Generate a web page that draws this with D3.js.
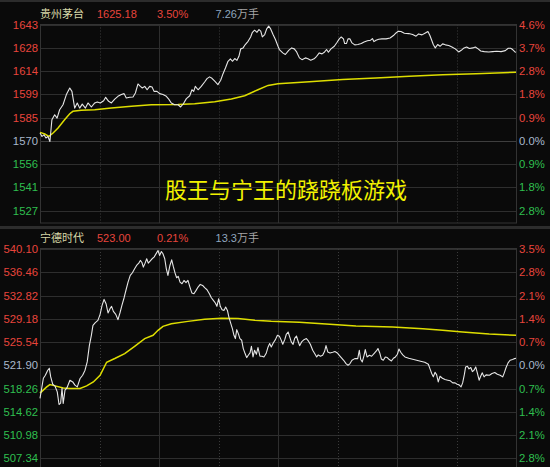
<!DOCTYPE html>
<html>
<head>
<meta charset="utf-8">
<script src="https://cdn.jsdelivr.net/npm/d3@7"></script>
<style>
  html, body { margin: 0; padding: 0; background: #0a0a0a; }
  svg { display: block; }
</style>
</head>
<body>
<svg id="chart" width="550" height="467"></svg>
<script>
// ---- Quote headers ----
const stockNames   = ["贵州茅台", "宁德时代"];
const lastPrices   = ["1625.18", "523.00"];
const changePcts   = ["3.50%", "0.21%"];
const volumes      = ["7.26", "13.3"];
const volumeUnit   = "万手";
const chartTitle   = "股王与宁王的跷跷板游戏";

// ---- Price scales: previous close and grid step (price units) ----
const prevCloses   = [1570.22, 521.90];
const gridSteps    = [14.445, 3.64];

// ---- Axis tick labels, top to bottom ----
const maotaiPriceTicks = ["1643", "1628", "1614", "1599", "1585", "1570", "1556", "1541", "1527"];
const maotaiPctTicks   = ["4.6%", "3.7%", "2.8%", "1.8%", "0.9%", "0.0%", "0.9%", "1.8%", "2.8%"];
const catlPriceTicks   = ["540.10", "536.46", "532.82", "529.18", "525.54", "521.90", "518.26", "514.62", "510.98", "507.34"];
const catlPctTicks     = ["3.5%", "2.8%", "2.1%", "1.4%", "0.7%", "0.0%", "0.7%", "1.4%", "2.1%", "2.8%"];

// ---- Intraday series: [minutes since 9:30 (trading time), price] ----
const maotaiPrice = [
  [0,1575.0],[1,1572.9],[2,1573.9],[3,1571.9],[4,1572.9],[5,1569.8],[6,1583.3],[7.4,1586.4],[8.6,1584.3],
  [9.9,1589.5],[11.6,1592.6],[13.3,1598.9],[15,1603.0],[16.1,1600.9],[17.5,1590.5],[18.8,1593.7],[20,1590.5],
  [21.3,1593.0],[22.9,1590.5],[24.2,1593.7],[25.9,1591.2],[27.6,1593.7],[28.9,1594.3],[30.4,1593.7],[32.1,1595.1],
  [33.1,1597.2],[34.6,1594.7],[36,1593.7],[37.7,1596.1],[39.3,1597.8],[41,1598.9],[42.4,1599.5],[43.5,1596.8],
  [45.2,1597.2],[46.9,1597.4],[48.1,1599.9],[49.4,1605.5],[50.6,1604.0],[51.6,1603.0],[52.8,1604.0],[54,1601.9],
  [55.3,1604.0],[56.5,1603.6],[57.5,1600.9],[59,1600.9],[60.3,1599.5],[62,1598.9],[63.7,1597.8],[64.9,1596.1],
  [66.2,1593.7],[67.9,1592.6],[69.6,1592.6],[70.9,1591.2],[72.3,1593.2],[73.8,1596.4],[75.5,1598.2],[76.6,1601.9],
  [77.5,1600.9],[78.3,1604.0],[79.7,1601.9],[81.3,1604.0],[83,1606.7],[84.2,1608.8],[85.5,1609.9],[86.7,1609.0],
  [88.1,1607.2],[89.7,1605.1],[91.1,1607.8],[92.3,1611.9],[93.5,1615.4],[94.8,1619.6],[96,1621.1],[97,1619.6],
  [98.2,1621.3],[99.3,1620.2],[100.3,1622.7],[101.2,1627.3],[102.4,1627.9],[103.5,1630.0],[104.9,1632.0],
  [106.2,1634.7],[107.1,1637.6],[108.2,1638.9],[109.4,1637.6],[110.4,1639.3],[111.3,1638.3],[112.1,1634.7],
  [113.3,1636.2],[114.3,1639.7],[115.3,1641.4],[116.3,1639.7],[117.5,1636.2],[118.7,1633.1],[120,1628.9],
  [120.7,1626.9],[122.4,1624.8],[123.7,1623.8],[125.4,1626.4],[126.9,1627.9],[128.2,1627.3],[129.4,1625.4],
  [130.8,1621.7],[132.1,1620.6],[133.8,1621.7],[135.1,1621.1],[136.5,1620.2],[138.2,1621.1],[139.5,1622.7],
  [140.8,1624.8],[142.2,1624.2],[143.5,1625.4],[144.5,1626.9],[145.4,1625.2],[146.7,1627.3],[148.4,1628.9],
  [149.8,1631.4],[150.9,1633.5],[151.9,1634.7],[153,1633.5],[153.6,1630.6],[154.5,1630.6],[155.3,1633.5],
  [156.3,1633.5],[157.3,1631.0],[158.7,1629.8],[160.3,1630.0],[162,1630.6],[163.4,1631.6],[165.1,1632.3],
  [166.7,1632.7],[167.6,1633.7],[168.4,1631.8],[169.4,1632.7],[170.8,1633.3],[172.4,1633.5],[174.5,1633.5],
  [176.5,1634.1],[178.2,1635.6],[179.5,1637.2],[180.7,1638.3],[182,1638.1],[183.7,1637.0],[185.9,1636.8],
  [187.9,1636.2],[189.6,1635.2],[190.9,1636.6],[192.6,1636.0],[194.3,1637.2],[195.6,1638.1],[196.6,1635.6],
  [197.5,1632.7],[198.3,1630.0],[199.3,1627.9],[200.5,1630.0],[201.7,1628.9],[203,1630.4],[204.4,1629.8],
  [206.1,1629.4],[207.7,1628.5],[209.4,1627.3],[211.1,1625.4],[212.4,1626.4],[213.8,1627.9],[215.1,1628.5],
  [216.5,1627.5],[218.2,1627.9],[219.5,1628.5],[220.9,1627.3],[222.2,1626.0],[224,1625.6],[226.2,1625.4],
  [228.2,1625.6],[230.3,1625.8],[232.5,1625.6],[234.6,1626.2],[236.1,1627.7],[237.3,1627.7],[238.3,1626.9],
  [239.5,1625.4],[240,1625.18]
];
const maotaiAvg = [
  [0,1575.4],[2.4,1574.4],[4.5,1572.9],[6.6,1575.0],[9.1,1578.1],[12.4,1583.3],[15,1587.0],[16.6,1588.5],
  [20.8,1589.1],[27.6,1589.5],[36,1590.5],[46.1,1591.6],[56.1,1592.6],[69.6,1592.8],[78,1593.2],[88.1,1594.5],
  [96.5,1596.2],[103.2,1598.2],[109.9,1601.9],[115,1604.6],[120,1605.7],[135.8,1606.9],[152.6,1608.2],
  [169.4,1609.2],[186.2,1610.3],[203,1611.3],[219.8,1611.9],[240,1612.8]
];
const catlPrice = [
  [0,516.70],[1.7,519.87],[2.7,520.34],[3.9,521.12],[4.7,521.43],[5.4,520.07],[6.4,518.93],[7.6,518.62],
  [8.7,517.73],[9.6,515.76],[10.4,515.96],[11.1,518.31],[11.7,515.92],[12.6,517.99],[13.5,518.31],[15.1,519.56],
  [16.5,519.29],[17.6,518.78],[18.8,518.51],[20.2,519.82],[21.5,520.34],[22.7,521.12],[23.8,522.42],[24.9,525.02],
  [25.9,526.59],[26.7,528.15],[27.9,528.57],[29.2,528.93],[30.3,529.87],[31.3,531.28],[32.3,532.21],[33.3,531.54],
  [34.3,530.08],[35.3,530.76],[36.1,531.12],[37,530.34],[38.2,529.87],[39.3,529.04],[40.3,530.08],[41.3,531.28],
  [42.4,532.47],[43.4,533.72],[44.4,534.92],[45.5,535.96],[46.6,536.38],[47.7,537.00],[48.7,537.52],[49.8,537.89],
  [50.6,538.31],[51.4,537.99],[52.1,537.26],[53,537.89],[53.8,538.57],[54.6,537.89],[55.5,538.20],[56.5,538.57],
  [57.5,538.83],[58.7,539.45],[59.5,539.87],[60.3,539.09],[61.2,539.71],[62,539.35],[62.9,538.57],[63.7,537.00],
  [64.5,535.96],[65.5,537.52],[66.4,538.41],[67.2,537.37],[68.1,536.33],[68.9,535.60],[69.7,535.81],[70.6,534.92],
  [71.6,534.66],[72.6,535.18],[73.6,534.82],[74.6,535.18],[75.6,534.14],[76.6,533.20],[77.6,533.10],[78.7,533.62],
  [79.7,534.14],[80.8,534.56],[82,534.40],[83,534.04],[84.2,533.72],[85.4,533.10],[86.4,532.47],[87.4,532.06],
  [88.4,531.64],[89.2,531.12],[90.1,532.32],[90.9,531.12],[91.8,530.60],[92.8,530.49],[93.6,531.02],[94.5,530.49],
  [95.3,529.35],[96.1,528.52],[97,527.63],[97.8,526.59],[98.5,526.07],[99.2,527.47],[100,526.85],[100.8,526.07],
  [101.7,525.81],[102.5,524.51],[103.4,523.73],[104.2,523.10],[105,523.46],[105.9,523.83],[106.6,524.87],
  [107.4,523.20],[108.2,524.25],[109.1,523.62],[109.9,524.66],[110.9,523.31],[111.9,523.31],[112.9,523.20],
  [114,523.73],[115,524.77],[115.8,525.29],[116.6,524.77],[117.6,525.39],[118.7,525.91],[119.7,526.59],
  [120.7,526.43],[121.5,525.91],[122.4,525.18],[123.4,525.91],[124.2,526.75],[125.1,527.11],[125.9,526.33],
  [126.7,525.55],[127.6,525.18],[128.4,526.12],[129.3,526.48],[130.1,525.70],[130.9,524.97],[131.9,525.55],
  [133.1,525.91],[134.3,526.07],[135.3,525.70],[136.3,525.18],[137.5,524.25],[138.7,523.62],[139.5,523.20],
  [140.3,523.52],[141.4,523.31],[142.5,523.46],[143.5,524.09],[144.2,524.97],[145.1,523.99],[146.2,523.83],
  [147.6,523.93],[148.7,524.04],[149.9,523.83],[150.9,523.46],[151.9,523.10],[153.1,522.68],[154.3,522.16],
  [155.3,521.90],[156.3,522.16],[157.3,522.68],[158.7,522.94],[160.2,522.94],[161,524.25],[161.7,522.79],
  [162.5,522.42],[163.4,523.46],[164,524.35],[164.9,523.20],[166.1,523.46],[167.2,523.31],[168.4,523.73],
  [169.6,524.14],[170.4,524.51],[171.3,523.83],[172.1,522.89],[173.1,522.68],[174.1,523.20],[175.1,523.10],
  [176.1,522.79],[177.2,522.58],[178.2,522.99],[179.2,523.20],[180.2,523.62],[181,524.45],[181.9,523.93],
  [182.9,523.52],[184,523.20],[185.9,522.99],[187.9,522.84],[189.9,522.68],[191.9,522.53],[194,522.37],
  [195.8,522.06],[196.6,521.38],[197.5,520.60],[198.3,520.08],[199.2,520.81],[200,520.39],[200.8,519.30],
  [201.7,520.18],[202.9,519.87],[204.2,519.66],[205.6,519.56],[206.9,519.46],[208.1,519.14],[209.3,519.14],
  [210.3,518.93],[211.3,518.83],[212.3,518.52],[213.1,519.14],[214,520.50],[214.6,521.64],[215.5,521.75],
  [216.3,521.33],[217.2,521.54],[218,520.91],[218.8,521.12],[219.7,521.64],[220.5,520.71],[221.4,519.56],
  [222.2,520.18],[223,520.71],[223.9,520.08],[224.9,520.39],[226.6,520.34],[227.9,520.60],[229.3,520.76],
  [230.6,520.50],[232,520.34],[233.3,520.08],[234.1,520.71],[235,521.54],[236,522.27],[237,522.68],
  [238.3,522.79],[239.3,522.94],[240,523.00]
];
const catlAvg = [
  [0,517.53],[3.4,518.51],[5,518.88],[7.6,518.67],[11.7,518.35],[15.1,518.26],[20.2,518.26],[23.5,518.67],
  [26.9,519.29],[30.3,520.34],[33.6,522.37],[37.7,522.95],[42.7,523.73],[47.7,524.87],[52.8,526.07],[57,526.59],
  [59.5,527.37],[62,527.99],[66.2,528.41],[74.6,528.77],[83,529.09],[91.4,529.24],[99.8,529.20],[108.3,528.93],
  [116.6,528.77],[130.7,528.62],[144.2,528.35],[159.3,528.04],[177.8,527.88],[193,527.63],[203,527.37],
  [213.1,527.10],[226.5,526.79],[240,526.59]
];

// ---- Drawing ----
const W = 550, H = 467;
const plotLeft = 40, plotRight = 516;
const rowH = 23.25;
const numFont = "'Liberation Sans', Arial, sans-serif";
const cjkFont = "'Noto Sans CJK SC', 'Noto Sans', sans-serif";
const upColor = "#e8453c", downColor = "#2fbf4f", flatColor = "#a8b8cc";

const svg = d3.select("#chart");
svg.append("rect").attr("width", W).attr("height", H).attr("fill", "#0a0a0a");
svg.append("rect").attr("x", 0).attr("y", 0).attr("width", W).attr("height", 2).attr("fill", "#2c2c2c");

const x = d3.scaleLinear().domain([0, 240]).range([plotLeft, plotRight]);

const panels = [
  { idx: 0, headerY: 14, frameTop: 24.5, frameBottom: 223, up: 5, down: 3,
    priceTicks: maotaiPriceTicks, pctTicks: maotaiPctTicks, price: maotaiPrice, avg: maotaiAvg },
  { idx: 1, headerY: 238, frameTop: 249, frameBottom: 468, up: 5, down: 4,
    priceTicks: catlPriceTicks, pctTicks: catlPctTicks, price: catlPrice, avg: catlAvg }
];

panels.forEach(p => {
  const prev = prevCloses[p.idx], step = gridSteps[p.idx];
  const y = d3.scaleLinear()
    .domain([prev - p.down * step, prev + p.up * step])
    .range([p.frameTop + (p.up + p.down) * rowH, p.frameTop]);
  const levels = d3.range(p.up, -p.down - 1, -1);   // +up ... -down
  const tickVals = levels.map(k => prev + k * step);
  const levelColor = k => k > 0 ? upColor : (k < 0 ? downColor : flatColor);

  const g = svg.append("g");

  // horizontal grid
  g.selectAll("line.h").data(levels).join("line")
    .attr("x1", plotLeft).attr("x2", plotRight)
    .attr("y1", k => Math.round(y(prev + k * step)) + 0.5)
    .attr("y2", k => Math.round(y(prev + k * step)) + 0.5)
    .attr("stroke", k => k === 0 ? "#3e3e3e" : "#2e2e2e").attr("stroke-width", 1);

  // vertical grid: solid on the hour, dotted on the half hour
  const vMarks = [30, 60, 90, 120, 150, 180, 210];
  g.selectAll("line.v").data(vMarks).join("line")
    .attr("x1", m => Math.round(x(m)) + 0.5).attr("x2", m => Math.round(x(m)) + 0.5)
    .attr("y1", p.frameTop).attr("y2", p.frameBottom)
    .attr("stroke", m => m % 60 === 0 ? "#2e2e2e" : "#3a3a3a")
    .attr("stroke-dasharray", m => m % 60 === 0 ? null : "1,2");

  // frame
  g.append("rect")
    .attr("x", plotLeft + 0.5).attr("y", Math.round(p.frameTop) - 0.5)
    .attr("width", plotRight - plotLeft).attr("height", p.frameBottom - Math.round(p.frameTop) + 0.5)
    .attr("fill", "none").attr("stroke", "#333").attr("stroke-width", 1);

  // left price axis
  const leftAxis = d3.axisLeft(y).tickValues(tickVals)
    .tickFormat((d, i) => p.priceTicks[i]).tickSize(0).tickPadding(2);
  const la = g.append("g").attr("transform", `translate(${plotLeft},0)`).call(leftAxis);
  la.select(".domain").remove();
  la.selectAll("text").attr("fill", (d, i) => levelColor(levels[i]))
    .attr("font-family", numFont).attr("font-size", 11.3);

  // right percent axis
  const rightAxis = d3.axisRight(y).tickValues(tickVals)
    .tickFormat((d, i) => p.pctTicks[i]).tickSize(0).tickPadding(3);
  const ra = g.append("g").attr("transform", `translate(${plotRight},0)`).call(rightAxis);
  ra.select(".domain").remove();
  ra.selectAll("text").attr("fill", (d, i) => levelColor(levels[i]))
    .attr("font-family", numFont).attr("font-size", 11.3);

  // average price line
  const line = d3.line().x(d => x(d[0])).y(d => y(d[1]));
  g.append("path").datum(p.avg).attr("d", line)
    .attr("fill", "none").attr("stroke", "#dede00").attr("stroke-width", 1.5);
  // price line
  g.append("path").datum(p.price).attr("d", line)
    .attr("fill", "none").attr("stroke", "#e6e6e6").attr("stroke-width", 1.1)
    .attr("stroke-linejoin", "round");

  // header
  const hdr = g.append("g").attr("font-size", 11);
  hdr.append("text").attr("x", 40).attr("y", p.headerY).attr("dy", "0.35em")
    .attr("font-family", cjkFont).attr("fill", "#d8d8a8").text(stockNames[p.idx]);
  hdr.append("text").attr("x", 97).attr("y", p.headerY).attr("dy", "0.35em")
    .attr("font-family", numFont).attr("fill", upColor).text(lastPrices[p.idx]);
  hdr.append("text").attr("x", 157).attr("y", p.headerY).attr("dy", "0.35em")
    .attr("font-family", numFont).attr("fill", upColor).text(changePcts[p.idx]);
  const vt = hdr.append("text").attr("x", 259).attr("y", p.headerY).attr("dy", "0.35em")
    .attr("text-anchor", "end");
  vt.append("tspan").attr("font-family", numFont).attr("fill", "#8fa6bf").text(volumes[p.idx]);
  vt.append("tspan").attr("font-family", cjkFont).attr("fill", "#a6a6a6").text(volumeUnit);
});

// separator between the two panels
svg.append("rect").attr("x", 0).attr("y", 226).attr("width", W).attr("height", 3).attr("fill", "#2c2c2c");

// title
svg.append("text").attr("x", 165).attr("y", 190).attr("dy", "0.35em")
  .attr("font-family", cjkFont).attr("font-size", 22).attr("fill", "#f2f200")
  .text(chartTitle);
</script>
</body>
</html>
